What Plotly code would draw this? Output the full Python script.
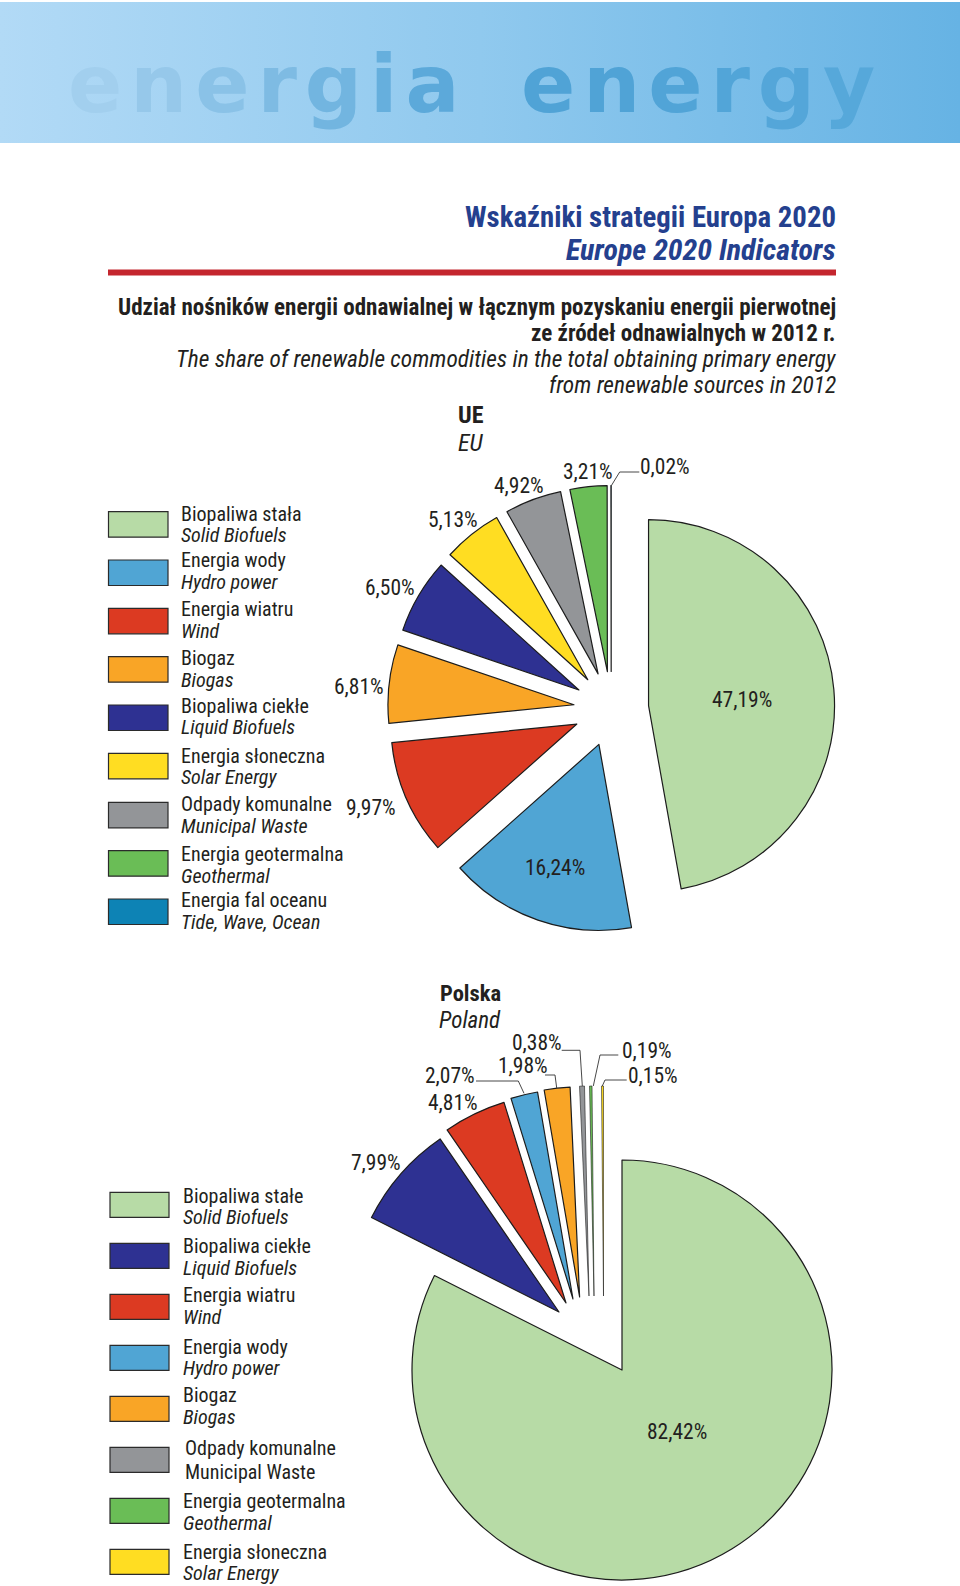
import plotly.graph_objects as go

W = 960
H = 1586
FONT = 'Roboto Condensed, Roboto, Liberation Sans'
DARK = '#231F20'

# EU pie, clockwise from 12 o'clock
eu_values = [47.19, 16.24, 9.97, 6.81, 6.50, 5.13, 4.92, 3.21, 0.02]
eu_names = ['Biopaliwa stała', 'Energia wody', 'Energia wiatru', 'Biogaz', 'Biopaliwa ciekłe',
            'Energia słoneczna', 'Odpady komunalne', 'Energia geotermalna', 'Energia fal oceanu']
eu_names_en = ['Solid Biofuels', 'Hydro power', 'Wind', 'Biogas', 'Liquid Biofuels',
               'Solar Energy', 'Municipal Waste', 'Geothermal', 'Tide, Wave, Ocean']
eu_colors = ['#B7DBA6', '#50A5D4', '#DC3A22', '#F9A526', '#2E3192',
             '#FFDD22', '#939598', '#6ABD56', '#0D83B5']
eu_labels = ['47,19%', '16,24%', '9,97%', '6,81%', '6,50%', '5,13%', '4,92%', '3,21%', '0,02%']

# Poland pie
pl_values = [82.42, 7.99, 4.81, 2.07, 1.98, 0.38, 0.19, 0.15]
pl_names = ['Biopaliwa stałe', 'Biopaliwa ciekłe', 'Energia wiatru', 'Energia wody', 'Biogaz',
            'Odpady komunalne', 'Energia geotermalna', 'Energia słoneczna']
pl_names_en = ['Solid Biofuels', 'Liquid Biofuels', 'Wind', 'Hydro power', 'Biogas',
               'Municipal Waste', 'Geothermal', 'Solar Energy']
pl_colors = ['#B7DBA6', '#2E3192', '#DC3A22', '#50A5D4', '#F9A526',
             '#939598', '#6ABD56', '#FFDD22']
pl_labels = ['82,42%', '7,99%', '4,81%', '2,07%', '1,98%', '0,38%', '0,19%', '0,15%']


def dom(cx, cy, half):
    return dict(x=[(cx - half) / W, (cx + half) / W],
                y=[1 - (cy + half) / H, 1 - (cy - half) / H])


fig = go.Figure()

# header band
fig.add_trace(go.Scatter(x=[0, W, W, 0, 0], y=[2, 2, 143, 143, 2], mode='none', fill='toself',
                         fillgradient=dict(type='horizontal',
                                           colorscale=[[0, '#B2DAF6'], [0.5, '#90C9EE'], [1, '#66B3E4']]),
                         hoverinfo='skip'))

# EU: one pie, every slice pulled the same
eu_r = 186
eu_pull = 0.2016
fig.add_trace(go.Pie(values=eu_values, labels=eu_names, sort=False, direction='clockwise', rotation=0,
                     pull=[eu_pull] * len(eu_values), textinfo='none', hoverinfo='label+value',
                     marker=dict(colors=eu_colors, line=dict(color='#1C1C1C', width=1.2)),
                     domain=dom(611.2, 709, eu_r * (1 + eu_pull))))

# Poland: slices were nudged by hand in the original, so each gets its own centre
pl_r = 210
pl_tips = [(622, 1370), (559, 1312), (566, 1303), (573, 1299),
           (579.6, 1297), (589, 1296), (594, 1296), (603.5, 1296)]
for i, tip in enumerate(pl_tips):
    colors = ['rgba(0,0,0,0)'] * len(pl_values)
    widths = [0] * len(pl_values)
    colors[i] = pl_colors[i]
    widths[i] = 1.2 if pl_values[i] > 1 else 0.6
    fig.add_trace(go.Pie(values=pl_values, labels=pl_names, sort=False, direction='clockwise', rotation=0,
                         textinfo='none', hoverinfo='skip',
                         marker=dict(colors=colors, line=dict(color='#1C1C1C', width=widths)),
                         domain=dom(tip[0], tip[1], pl_r)))


def text(x, y, s, size=20, anchor='left', color=DARK, family=FONT):
    fig.add_annotation(x=x, y=y, text=s, xref='x', yref='y', xanchor=anchor, yanchor='middle',
                       showarrow=False, borderpad=0, font=dict(family=family, size=size, color=color))


def leader(points):
    path = 'M ' + ' L '.join(f'{x},{y}' for x, y in points)
    fig.add_shape(type='path', path=path, xref='x', yref='y', line=dict(color='#333333', width=0.9))


# watermark, letter colours fade in from the left
wm_1 = 'energia'
wm_1_colors = ['#A2CFEE', '#96C8EA', '#8AC2E7', '#7EBBE3', '#72B5E0', '#66AFDD', '#5CA9DA']
wm_2 = 'energy'
wm_2_colors = ['#50A3D6', '#50A3D6', '#51A4D7', '#52A5D8', '#54A6D9', '#56A8DA']
text(263, 84, '<b>' + '\u200a'.join(f'<span style="color:{c}">{l}</span>' for l, c in zip(wm_1, wm_1_colors)) + '</b>',
     size=80, anchor='center', family='DejaVu Sans', color='#5CA9DA')
text(698, 84, '<b>' + '\u200a'.join(f'<span style="color:{c}">{l}</span>' for l, c in zip(wm_2, wm_2_colors)) + '</b>',
     size=80, anchor='center', family='DejaVu Sans', color='#50A3D6')

# titles
NAVY = '#24408E'
text(837, 217, '<b>Wskaźniki strategii Europa 2020</b>', size=28.8, anchor='right', color=NAVY)
text(837, 249, '<b><i>Europe 2020 Indicators</i></b>', size=30, anchor='right', color=NAVY)
fig.add_shape(type='rect', x0=108, x1=836, y0=269.5, y1=275.5, xref='x', yref='y',
              fillcolor='#C4262E', line_width=0)
text(837, 307, '<b>Udział nośników energii odnawialnej w łącznym pozyskaniu energii pierwotnej</b>',
     size=23, anchor='right')
text(837, 333, '<b>ze źródeł odnawialnych w 2012 r.</b>', size=23, anchor='right')
text(837, 359, '<i>The share of renewable commodities in the total obtaining primary energy</i>',
     size=23.4, anchor='right')
text(837, 385, '<i>from renewable sources in 2012</i>', size=23.4, anchor='right')

text(471, 415, '<b>UE</b>', size=24, anchor='center')
text(471, 442.6, '<i>EU</i>', size=24, anchor='center')
text(470.4, 993, '<b>Polska</b>', size=22.5, anchor='center')
text(470.4, 1020, '<i>Poland</i>', size=23, anchor='center')

# EU legend
eu_sw_top = [511.7, 560, 608.3, 656.7, 705, 753.3, 802.3, 850.7, 899]
eu_txt_1 = [514, 560.2, 609, 658, 706.2, 755.5, 804, 854, 900.2]
eu_txt_2 = [535, 581.7, 631, 680, 727.2, 776.5, 826, 875.7, 922]
for i in range(len(eu_names)):
    fig.add_shape(type='rect', x0=108.5, x1=168, y0=eu_sw_top[i], y1=eu_sw_top[i] + 25.5, xref='x', yref='y',
                  fillcolor=eu_colors[i], line=dict(color='#2B2B2B', width=1.2))
    text(179.7, eu_txt_1[i], eu_names[i])
    text(179.7, eu_txt_2[i], '<i>' + eu_names_en[i] + '</i>')

# Poland legend
pl_sw_top = [1192.3, 1243.3, 1294.3, 1345.3, 1396.3, 1447.3, 1498.3, 1549.3]
pl_txt_1 = [1195.5, 1246.2, 1295.2, 1346.8, 1395, 1448.3, 1501.2, 1552]
pl_txt_2 = [1216.7, 1268, 1316.8, 1368, 1417.3, 1471.7, 1522.7, 1573.2]
for i in range(len(pl_names)):
    fig.add_shape(type='rect', x0=110, x1=169, y0=pl_sw_top[i], y1=pl_sw_top[i] + 25, xref='x', yref='y',
                  fillcolor=pl_colors[i], line=dict(color='#2B2B2B', width=1.2))
    lx = 183.5 if pl_names[i] == 'Odpady komunalne' else 182.3
    text(lx, pl_txt_1[i], pl_names[i])
    # the one upright English line in the original
    en = pl_names_en[i] if pl_names[i] == 'Odpady komunalne' else '<i>' + pl_names_en[i] + '</i>'
    text(lx, pl_txt_2[i], en)

# percentage labels
eu_pos = [(741.5, 699), (555.4, 867), (371, 807), (359, 686.7), (389.5, 587.4),
          (453, 519.6), (519, 485), (587.8, 471), (664.6, 466)]
for s, p in zip(eu_labels, eu_pos):
    text(p[0], p[1], s, size=21.5, anchor='center')
pl_pos = [(676.8, 1431), (376, 1162), (452.7, 1102), (450, 1075),
          (522.7, 1065.7), (536.7, 1042), (646.7, 1050.7), (652.7, 1075.7)]
for s, p in zip(pl_labels, pl_pos):
    text(p[0], p[1], s, size=21.5, anchor='center')

leader([(639.3, 472), (619.7, 472), (611.3, 485.7)])
leader([(561.7, 1050.3), (580, 1050.3), (582.3, 1086)])
leader([(618.3, 1055), (600, 1055), (593.3, 1086)])
leader([(626.7, 1080), (605, 1080), (602.3, 1086)])
leader([(545, 1075), (555, 1075), (556.7, 1088)])
leader([(476, 1081), (518.3, 1081), (524, 1093.3)])

fig.update_layout(width=W, height=H, margin=dict(l=0, r=0, t=0, b=0), showlegend=False,
                  paper_bgcolor='white', plot_bgcolor='white',
                  xaxis=dict(range=[0, W], visible=False, fixedrange=True),
                  yaxis=dict(range=[H, 0], visible=False, fixedrange=True))

fig.write_html('out.html', config={'displayModeBar': False},
               post_script="document.body.style.margin='0';document.body.style.overflow='hidden';")
